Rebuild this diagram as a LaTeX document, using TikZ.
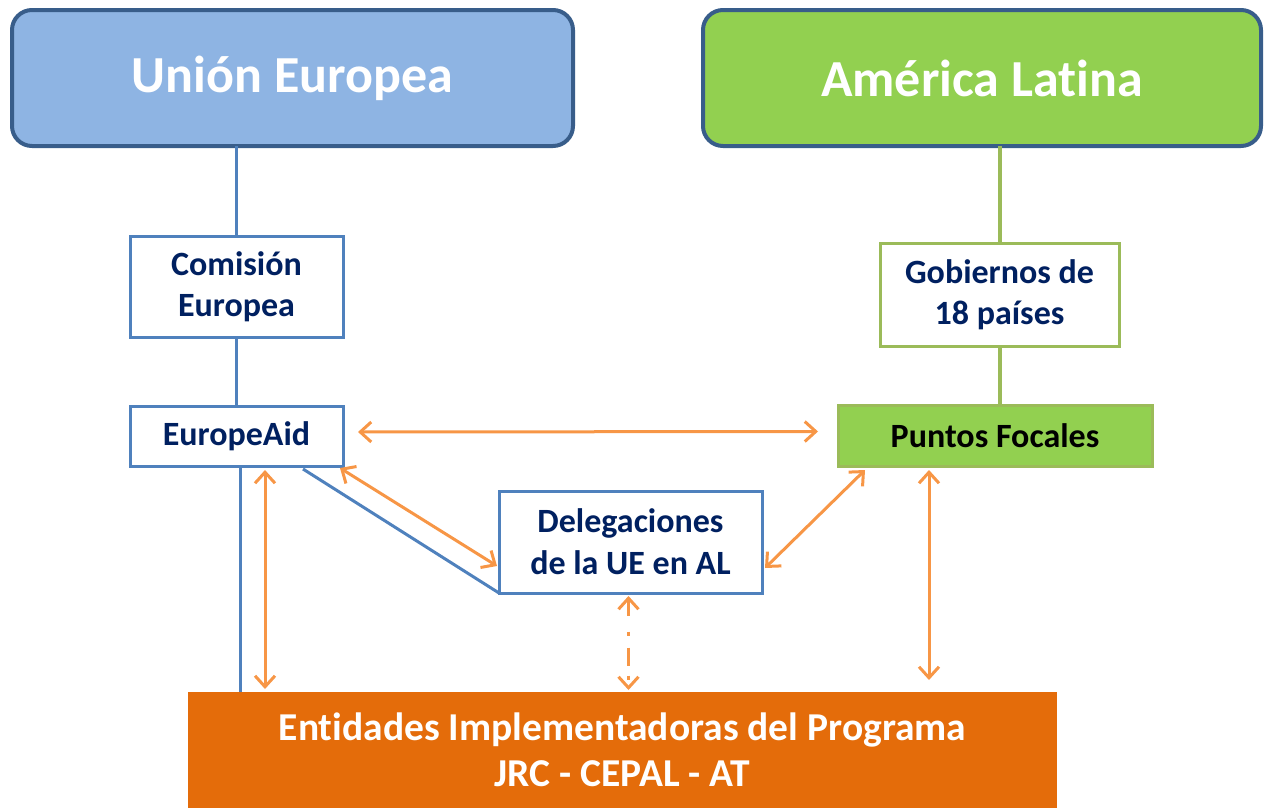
\documentclass[tikz,border=0pt]{standalone}
\usepackage{fontspec}
\setmainfont{Carlito}[Ligatures=NoCommon]
\usetikzlibrary{arrows.meta,calc}
\definecolor{ueFill}{HTML}{8EB4E3}
\definecolor{alFill}{HTML}{92D050}
\definecolor{topLine}{HTML}{385D8A}
\definecolor{bLine}{HTML}{4F81BD}
\definecolor{gLine}{HTML}{9BBB59}
\definecolor{navy}{HTML}{002060}
\definecolor{orArr}{HTML}{F79646}
\definecolor{entFill}{HTML}{E46C0A}
\tikzset{
  topbox/.style={draw=topLine, line width=4pt, rounded corners=20pt, inner sep=0pt, outer sep=0pt,
    text=white, font=\fontsize{52}{58}\selectfont\bfseries},
  bluebox/.style={draw=bLine, line width=3pt, fill=white, inner sep=0pt, outer sep=0pt, align=center,
    text=navy, font=\fontsize{34}{41}\selectfont\bfseries},
  greenbox/.style={draw=gLine, line width=3pt, fill=white, inner sep=0pt, outer sep=0pt, align=center,
    text=navy, font=\fontsize{34}{41}\selectfont\bfseries},
  bline/.style={draw=bLine, line width=3pt},
  gline/.style={draw=gLine, line width=3.5pt},
  oarr/.style={draw=orArr, line width=3pt, {Straight Barb[length=11pt,width=20pt]}-{Straight Barb[length=11pt,width=20pt]}},
}
\begin{document}
\begin{tikzpicture}[x=1pt,y=-1pt]
\useasboundingbox (0,0) rectangle (1264,809);
% main boxes
\node[topbox, fill=ueFill, minimum width=561pt, minimum height=136pt] (ue) at (292.5,78) {Unión Europea};
\node[topbox, fill=alFill, minimum width=558pt, minimum height=136pt] (al) at (982,78) {América Latina};
\node[bluebox, minimum width=213pt, minimum height=101pt] (ce) at (236.5,286.5) {Comisión\\Europea};
\node[greenbox, minimum width=239pt, minimum height=103pt] (gob) at (999.5,294.5) {Gobiernos de\\18 países};
\node[bluebox, minimum width=213pt, minimum height=60pt] (ea) at (236.5,436) {EuropeAid};
\node[greenbox, fill=alFill, text=black, minimum width=314pt, minimum height=61pt] (pf) at (995,435.5) {Puntos Focales};
\node[bluebox, minimum width=263pt, minimum height=102pt, font=\fontsize{34}{42}\selectfont\bfseries] (del) at (630.5,542) {Delegaciones\\de la UE en AL};
\node[fill=entFill, inner sep=0pt, outer sep=0pt, minimum width=869pt, minimum height=116pt, align=center,
  text=white, font=\fontsize{39.5}{46}\selectfont\bfseries] (ent) at (622.5,750) {Entidades Implementadoras del Programa\\JRC - CEPAL - AT};
% structural lines
\draw[bline] (ce.north |- ue.south) -- (ce.north);
\draw[bline] (ce.south) -- (ea.north);
\coordinate (gT) at ($(gob.north)+(0.5,0)$);
\coordinate (gB) at ($(gob.south)+(0.5,0)$);
\draw[gline] (gT |- al.south) -- (gT);
\draw[gline] (gB) -- (gB |- pf.north);
\coordinate (eaB) at ($(ea.south)+(3.5,0)$);
\draw[bline] (eaB) -- (eaB |- ent.north);
\draw[bline] ($(ea.south east)+(-40,3)$) -- (del.south west);
% orange arrows
\draw[oarr] ($(ea.east)+(15,-4)$) -- ($(pf.west)+(-20,-4)$);
\coordinate (eaO) at ($(ea.south)+(28.5,4)$);
\draw[oarr] (eaO) -- ($(eaO |- ent.north)+(0,-3)$);
\draw[oarr] ($(ea.south east)+(-3,2)$) -- ($(del.west)+(-2,24)$);
\draw[oarr] ($(del.east)+(3,26)$) -- ($(pf.south west)+(27,4)$);
\coordinate (pfO) at ($(pf.south)+(-66,4)$);
\draw[oarr] (pfO) -- ($(pfO |- ent.north)+(0,-12)$);
\coordinate (delO) at ($(del.south)+(-2,3)$);
\draw[oarr, dash pattern=on 16pt off 16pt on 4pt off 12pt on 18pt off 10pt on 4pt off 40pt] (delO) -- ($(delO |- ent.north)+(0,-2)$);
\end{tikzpicture}
\end{document}
